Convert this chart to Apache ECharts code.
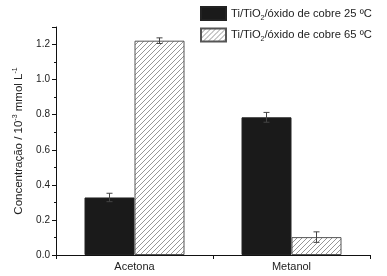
<!DOCTYPE html>
<html>
<head>
<meta charset="utf-8">
<script src="https://cdn.jsdelivr.net/npm/echarts@6/dist/echarts.min.js"></script>
<style>
  html, body { margin: 0; padding: 0; background: #fff; }
  #chart { width: 387px; height: 276px; }
</style>
</head>
<body>
<div id="chart"></div>
<script>
const categories = ['Acetona', 'Metanol']
const seriesNames = ['Ti/TiO2/óxido de cobre 25 ºC', 'Ti/TiO2/óxido de cobre 65 ºC']
const values25 = [0.328, 0.785]
const errors25 = [0.024, 0.028]
const values65 = [1.222, 0.102]
const errors65 = [0.016, 0.030]

const barWidth = 50

// hatch pattern for the 65 ºC bars
function hatch() {
  const c = document.createElement('canvas')
  c.width = 5
  c.height = 5
  const ctx = c.getContext('2d')
  ctx.fillStyle = '#fff'
  ctx.fillRect(0, 0, 5, 5)
  ctx.strokeStyle = '#8a8a8a'
  ctx.lineWidth = 0.9
  ctx.beginPath()
  ctx.moveTo(-1, 6); ctx.lineTo(6, -1)
  ctx.moveTo(-1, 1); ctx.lineTo(1, -1)
  ctx.moveTo(4, 6); ctx.lineTo(6, 4)
  ctx.stroke()
  return c
}

function legendLabel(name) {
  const parts = name.split('TiO2')
  return '{a|' + parts[0] + 'TiO}{s|2}{a|' + parts[1] + '}'
}

function errorSeries(vals, errs, side) {
  return {
    type: 'custom',
    silent: true,
    z: 5,
    data: vals.map((v, i) => [i, v, errs[i]]),
    renderItem: (params, api) => {
      const i = api.value(0)
      const top = api.coord([i, api.value(1) + api.value(2)])
      const bot = api.coord([i, api.value(1) - api.value(2)])
      const x = top[0] + side * barWidth / 2
      const w = 3
      const style = { stroke: '#444', lineWidth: 1 }
      return {
        type: 'group',
        children: [
          { type: 'line', shape: { x1: x, y1: top[1], x2: x, y2: bot[1] }, style },
          { type: 'line', shape: { x1: x - w, y1: top[1], x2: x + w, y2: top[1] }, style },
          { type: 'line', shape: { x1: x - w, y1: bot[1], x2: x + w, y2: bot[1] }, style }
        ]
      }
    }
  }
}

const myChart = echarts.init(document.getElementById('chart'))
const option = {
  animation: false,
  textStyle: { fontFamily: 'Liberation Sans, Arial, sans-serif' },
  legend: {
    orient: 'vertical',
    left: 195,
    top: 1,
    icon: 'rect',
    itemWidth: 25,
    itemHeight: 13,
    itemGap: 6,
    data: seriesNames,
    formatter: legendLabel,
    textStyle: {
      rich: {
        a: { fontSize: 11.2, color: '#222', fontFamily: 'Liberation Sans' },
        s: { fontSize: 7, color: '#222', fontFamily: 'Liberation Sans', padding: [9, 0, 0, 0] }
      }
    }
  },
  grid: { left: 56, right: 17, top: 27, bottom: 21 },
  xAxis: [
    {
      type: 'category',
      data: categories,
      axisLine: { lineStyle: { color: '#111', width: 1 } },
      axisTick: { alignWithLabel: true, length: 4, lineStyle: { color: '#111' } },
      axisLabel: { color: '#222', fontSize: 11, margin: 6 }
    },
    {
      type: 'value',
      position: 'bottom',
      min: 0,
      max: 2,
      interval: 1,
      axisLine: { show: false },
      axisTick: { show: true, inside: false, length: 4, lineStyle: { color: '#111' } },
      axisLabel: { show: false },
      splitLine: { show: false }
    }
  ],
  yAxis: {
    type: 'value',
    min: 0,
    max: 1.3,
    interval: 0.2,
    name: '{a|Concentração / 10}{p|-3}{a| mmol L}{p|-1}',
    nameLocation: 'middle',
    nameGap: 22,
    nameTextStyle: {
      rich: {
        a: { fontSize: 11.5, color: '#222', fontFamily: 'Liberation Sans' },
        p: { fontSize: 7, color: '#222', fontFamily: 'Liberation Sans', padding: [0, 0, 8, 0] }
      }
    },
    axisLine: { show: true, lineStyle: { color: '#111', width: 1 } },
    axisTick: { show: true, length: 4, lineStyle: { color: '#111' } },
    minorTick: { show: true, splitNumber: 2, length: 2, lineStyle: { color: '#111' } },
    axisLabel: {
      color: '#222',
      fontSize: 10,
      margin: 6,
      showMaxLabel: false,
      formatter: v => v.toFixed(1)
    },
    splitLine: { show: false }
  },
  series: [
    {
      name: seriesNames[0],
      type: 'bar',
      barWidth: barWidth,
      barGap: '0%',
      data: values25,
      itemStyle: { color: '#1a1a1a', borderColor: '#222', borderWidth: 1 }
    },
    {
      name: seriesNames[1],
      type: 'bar',
      barWidth: barWidth,
      barGap: '0%',
      data: values65,
      itemStyle: { color: { image: hatch(), repeat: 'repeat' }, borderColor: '#555', borderWidth: 1 }
    },
    errorSeries(values25, errors25, -1),
    errorSeries(values65, errors65, 1)
  ]
}
myChart.setOption(option)
</script>
</body>
</html>
